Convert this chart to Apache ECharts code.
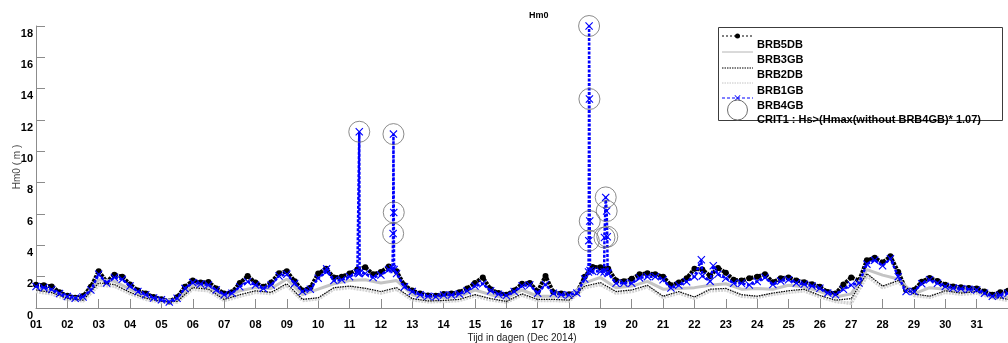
<!DOCTYPE html>
<html>
<head>
<meta charset="utf-8">
<title>Hm0</title>
<script src="https://cdn.jsdelivr.net/npm/echarts@6/dist/echarts.min.js"></script>
<style>
  html, body { margin: 0; padding: 0; background: #fff; }
  #chart { width: 1008px; height: 343px; }
</style>
</head>
<body>
<div id="chart"></div>
<script>
// Significant wave height Hm0 (m), December 2014, per measuring station.
const startDay = 1;
const fineStep = 0.25;   // 6-hourly samples
const coarseStep = 0.5;  // 12-hourly samples

const dayTicks = ['01','02','03','04','05','06','07','08','09','10','11','12','13','14','15','16',
  '17','18','19','20','21','22','23','24','25','26','27','28','29','30','31'];

// BRB5DB, 6-hourly
const brb5db = [
  1.48, 1.45, 1.38, 1.00,  0.78, 0.66, 0.76, 1.35,  2.35, 1.68, 2.12, 2.00,
  1.50, 1.12, 0.92, 0.70,  0.56, 0.42, 0.68, 1.35,  1.75, 1.62, 1.66, 1.25,
  0.92, 1.00, 1.60, 2.04,  1.62, 1.35, 1.62, 2.22,  2.35, 1.70, 1.12, 1.30,
  2.20, 2.50, 1.95, 2.00,  2.20, 2.45, 2.60, 2.15,  2.30, 2.65, 2.35, 1.45,
  1.12, 0.92, 0.80, 0.78,  0.90, 0.92, 1.00, 1.25,  1.60, 1.95, 1.20, 0.95,
  0.85, 1.12, 1.55, 1.60,  1.05, 2.05, 1.00, 0.92,  0.88, 1.00, 2.00, 2.62,
  2.60, 2.50, 1.75, 1.70,  1.86, 2.15, 2.22, 2.15,  2.00, 1.45, 1.62, 1.90,
  2.50, 2.45, 2.05, 2.55,  2.25, 1.80, 1.75, 1.90,  2.00, 2.15, 1.65, 1.90,
  1.95, 1.75, 1.65, 1.52,  1.35, 1.02, 0.92, 1.50,  1.95, 1.75, 3.05, 3.20,
  2.90, 3.30, 2.30, 1.15,  1.15, 1.68, 1.92, 1.72,  1.48, 1.38, 1.32, 1.28,
  1.25, 1.05, 0.85, 1.00,  1.10
];

// BRB3GB, 12-hourly
const brb3gb = [
  1.25, 1.10, 0.68, 0.58, 1.80, 1.70, 1.20, 0.72, 0.48, 0.50, 1.45, 1.35, 0.70, 1.10,
  1.30, 1.25, 1.85, 0.85, 1.20, 1.55, 1.75, 1.80, 1.60, 1.75, 0.85, 0.62, 0.65, 0.75,
  1.15, 0.85, 0.62, 1.15, 0.75, 0.75, 0.70, 1.60, 1.95, 1.30, 1.40, 1.70, 1.20, 1.25,
  1.30, 1.45, 1.55, 1.20, 1.25, 1.20, 1.45, 1.35, 1.05, 0.70, 0.90, 2.45, 2.10, 1.85,
  0.90, 1.30, 1.20, 1.05, 1.05, 0.65, 0.70
];

// BRB2DB, 12-hourly
const brb2db = [
  1.15, 0.98, 0.62, 0.50, 1.60, 1.50, 1.00, 0.62, 0.42, 0.42, 1.30, 1.20, 0.55, 0.85,
  1.10, 1.00, 1.55, 0.55, 0.65, 1.30, 1.40, 1.26, 1.05, 1.30, 0.60, 0.45, 0.48, 0.55,
  0.85, 0.60, 0.42, 0.90, 0.55, 0.55, 0.50, 1.40, 1.62, 1.05, 1.15, 1.45, 0.75, 1.05,
  0.70, 1.20, 1.25, 0.85, 0.75, 0.95, 1.10, 1.20, 0.80, 0.50, 0.60, 2.20, 1.40, 1.75,
  0.90, 0.75, 1.10, 0.95, 1.05, 0.75, 0.55
];

// BRB1GB, 12-hourly
const brb1gb = [
  1.05, 0.90, 0.55, 0.45, 1.45, 1.40, 0.92, 0.55, 0.38, 0.38, 1.20, 1.10, 0.48, 0.75,
  1.00, 0.92, 1.45, 0.48, 0.58, 1.20, 1.30, 1.15, 0.95, 1.20, 0.52, 0.40, 0.42, 0.48,
  0.78, 0.52, 0.38, 0.82, 0.48, 0.48, 0.45, 1.30, 1.50, 0.95, 1.05, 1.35, 0.68, 0.95,
  0.62, 1.10, 1.15, 0.75, 0.68, 0.88, 1.00, 1.10, 0.72, 0.42, 0.30, 2.05, 1.30, 1.65,
  0.80, 0.68, 1.00, 0.88, 0.95, 0.68, 0.48
];

// BRB4GB, 6-hourly
const brb4gb = [
  1.37, 1.30, 1.18, 0.92,  0.74, 0.62, 0.70, 1.15,  2.15, 1.60, 1.95, 1.83,
  1.40, 1.05, 0.85, 0.64,  0.52, 0.38, 0.62, 1.25,  1.62, 1.53, 1.47, 1.15,
  0.85, 0.94, 1.36, 1.68,  1.47, 1.25, 1.47, 2.04,  2.15, 1.57, 1.05, 1.20,
  1.90, 2.30, 1.75, 1.80,  2.00, 2.25, 2.20, 1.95,  2.10, 2.45, 2.20, 1.35,
  1.05, 0.85, 0.75, 0.72,  0.83, 0.83, 0.90, 1.10,  1.40, 1.55, 1.10, 0.88,
  0.80, 1.05, 1.40, 1.47,  0.94, 1.50, 0.94, 0.85,  0.83, 0.95, 1.85, 2.35,
  2.33, 2.20, 1.58, 1.58,  1.58, 1.92, 2.00, 2.00,  1.80, 1.28, 1.45, 1.68,
  2.00, 2.05, 1.70, 2.15,  1.90, 1.58, 1.58, 1.47,  1.69, 1.95, 1.50, 1.72,
  1.80, 1.60, 1.52, 1.40,  1.26, 0.95, 0.85, 1.20,  1.47, 1.60, 2.80, 3.05,
  2.70, 3.15, 2.00, 1.05,  1.05, 1.55, 1.80, 1.58,  1.37, 1.27, 1.23, 1.20,
  1.15, 0.94, 0.75, 0.82,  0.94
];

// BRB4GB short-lived readings between the 6-hourly samples
const brb4gbExtraDays   = [10.27, 11.30, 11.31, 11.32, 12.37, 12.39, 12.40, 12.41, 12.42,
  18.62, 18.63, 18.64, 18.65, 18.66, 18.67, 19.12, 19.13, 19.17, 19.20, 19.22, 19.23, 22.22, 22.60];
const brb4gbExtraValues = [2.50, 2.20, 11.25, 2.25, 2.50, 4.75, 11.10, 6.10, 2.45,
  2.30, 4.30, 18.00, 13.34, 5.55, 2.40, 2.30, 4.50, 7.06, 6.19, 4.55, 2.25, 3.08, 2.70];

// CRIT1 : readings flagged by Hs > Hmax(without BRB4GB) * 1.07
const crit1Days   = [11.31, 12.39, 12.40, 12.41, 18.63, 18.64, 18.65, 18.66, 19.13, 19.17, 19.20, 19.22];
const crit1Values = [11.25, 4.75, 11.10, 6.10, 4.30, 18.00, 13.34, 5.55, 4.50, 7.06, 6.19, 4.55];

const legendNames = ['BRB5DB', 'BRB3GB', 'BRB2DB', 'BRB1GB', 'BRB4GB', 'CRIT1 : Hs>(Hmax(without BRB4GB)* 1.07)'];

function sampled(step, values) {
  return values.map((v, i) => [startDay + i * step, v]);
}
function merged(base, days, values) {
  return base.concat(days.map((d, i) => [d, values[i]])).sort((a, b) => a[0] - b[0]);
}

const crossPath = 'path://M0,1L1,0L5,4L9,0L10,1L6,5L10,9L9,10L5,6L1,10L0,9L4,5Z';
const FONT = 'Liberation Sans, Arial, sans-serif';

// small "x" marker as polygon points around a centre
function crossPoints(cx, cy, r) {
  const s = r / 5;
  const base = [[0,1],[1,0],[5,4],[9,0],[10,1],[6,5],[10,9],[9,10],[5,6],[1,10],[0,9],[4,5]];
  return base.map(p => [cx + (p[0] - 5) * s, cy + (p[1] - 5) * s]);
}

const chart = echarts.init(document.getElementById('chart'), null, { renderer: 'canvas' });

// Legend box drawn as graphic: symbol rows sit a little above their labels
const legX = 718, legY = 27, legW = 284, legH = 93;
const symRows = [36, 52, 68, 83, 98, 110];
const textRows = [45, 60, 75, 91, 106, 120];
const legendGraphic = [
  { type: 'rect', shape: { x: legX + 0.5, y: legY + 0.5, width: legW, height: legH },
    style: { fill: '#fff', stroke: '#3c3c3c', lineWidth: 1 }, z: 10 },
  { type: 'line', shape: { x1: 722, y1: symRows[0], x2: 753, y2: symRows[0] },
    style: { stroke: '#000', lineWidth: 1, lineDash: [2, 2] }, z: 11 },
  { type: 'circle', shape: { cx: 737.5, cy: symRows[0], r: 2.5 }, style: { fill: '#000' }, z: 11 },
  { type: 'line', shape: { x1: 722, y1: symRows[1], x2: 753, y2: symRows[1] },
    style: { stroke: '#b4b4b4', lineWidth: 1 }, z: 11 },
  { type: 'line', shape: { x1: 722, y1: symRows[2], x2: 753, y2: symRows[2] },
    style: { stroke: '#000', lineWidth: 1, lineDash: [1.5, 1] }, z: 11 },
  { type: 'line', shape: { x1: 722, y1: symRows[3], x2: 753, y2: symRows[3] },
    style: { stroke: '#c4c4c4', lineWidth: 1, lineDash: [1.5, 1] }, z: 11 },
  { type: 'line', shape: { x1: 722, y1: symRows[4], x2: 753, y2: symRows[4] },
    style: { stroke: '#0000ff', lineWidth: 1, lineDash: [3, 2] }, z: 11 },
  { type: 'polygon', shape: { points: crossPoints(737.5, symRows[4], 3) },
    style: { fill: '#0000ff' }, z: 11 },
  { type: 'circle', shape: { cx: 737.5, cy: symRows[5], r: 10 },
    style: { fill: 'none', stroke: '#6e6e6e', lineWidth: 1 }, z: 11 }
].concat(legendNames.map((name, i) => ({
  type: 'text', x: 757, y: textRows[i], z: 12,
  style: { text: name, fill: '#000', font: 'bold 11px ' + FONT, verticalAlign: 'middle' }
})));

const option = {
  animation: false,
  backgroundColor: '#fff',
  title: {
    text: 'Hm0', left: 524, top: 6,
    textStyle: { fontFamily: FONT, fontWeight: 'bold', fontSize: 9, color: '#000' }
  },
  grid: { left: 36, right: 0, top: 26, bottom: 35, containLabel: false, outerBoundsMode: 'none' },
  xAxis: {
    type: 'value', min: 1, max: 32, interval: 1,
    name: 'Tijd in dagen (Dec 2014)', nameLocation: 'middle', nameGap: 25, nameMoveOverlap: false,
    nameTextStyle: { fontFamily: FONT, fontSize: 10, color: '#222' },
    axisLine: { show: true, lineStyle: { color: '#8c8c8c', width: 1 } },
    axisTick: { show: true, inside: true, length: 9, lineStyle: { color: '#8c8c8c' } },
    axisLabel: {
      margin: 11, fontFamily: FONT, fontWeight: 'bold', fontSize: 11, color: '#000',
      formatter: v => dayTicks[Math.round(v) - 1] || ''
    },
    splitLine: { show: false }
  },
  yAxis: {
    type: 'value', min: 0, max: 18, interval: 2,
    name: 'Hm0 ( m )', nameLocation: 'middle', nameGap: 14, nameRotate: 90, nameMoveOverlap: false,
    nameTextStyle: { fontFamily: FONT, fontSize: 10, color: '#444' },
    axisLine: { show: true, lineStyle: { color: '#8c8c8c', width: 1 } },
    axisTick: { show: true, inside: true, length: 9, lineStyle: { color: '#8c8c8c' } },
    axisLabel: {
      margin: 3, fontFamily: FONT, fontWeight: 'bold', fontSize: 11, color: '#000',
      verticalAlign: 'top', lineHeight: 15
    },
    splitLine: { show: false }
  },
  graphic: legendGraphic,
  series: [
    {
      name: 'BRB5DB', type: 'line', z: 2,
      data: sampled(fineStep, brb5db),
      symbol: 'circle', symbolSize: 6, showSymbol: true,
      lineStyle: { color: '#000', width: 4, type: [3, 1] },
      itemStyle: { color: '#000' }
    },
    {
      name: 'BRB3GB', type: 'line', z: 3,
      data: sampled(coarseStep, brb3gb),
      symbol: 'none',
      lineStyle: { color: '#c4c4c4', width: 3 }
    },
    {
      name: 'BRB1GB', type: 'line', z: 3,
      data: sampled(coarseStep, brb1gb),
      symbol: 'none',
      lineStyle: { color: '#d2d2d2', width: 3.5, type: [2, 1] }
    },
    {
      name: 'BRB2DB', type: 'line', z: 4,
      data: sampled(coarseStep, brb2db),
      symbol: 'none',
      lineStyle: { color: '#000', width: 1.2, type: [1.5, 1] }
    },
    {
      name: 'BRB4GB', type: 'line', z: 5,
      data: merged(sampled(fineStep, brb4gb), brb4gbExtraDays, brb4gbExtraValues),
      symbol: crossPath, symbolSize: 8, showSymbol: true,
      lineStyle: { color: '#0000ff', width: 2.5, type: [3, 1.5] },
      itemStyle: { color: '#0000ff' }
    },
    {
      name: 'CRIT1', type: 'scatter', z: 6,
      data: crit1Days.map((d, i) => [d, crit1Values[i]]),
      symbol: 'circle', symbolSize: 21,
      itemStyle: { color: 'rgba(0,0,0,0)', borderColor: '#6e6e6e', borderWidth: 1 }
    }
  ]
};

chart.setOption(option);
</script>
</body>
</html>
